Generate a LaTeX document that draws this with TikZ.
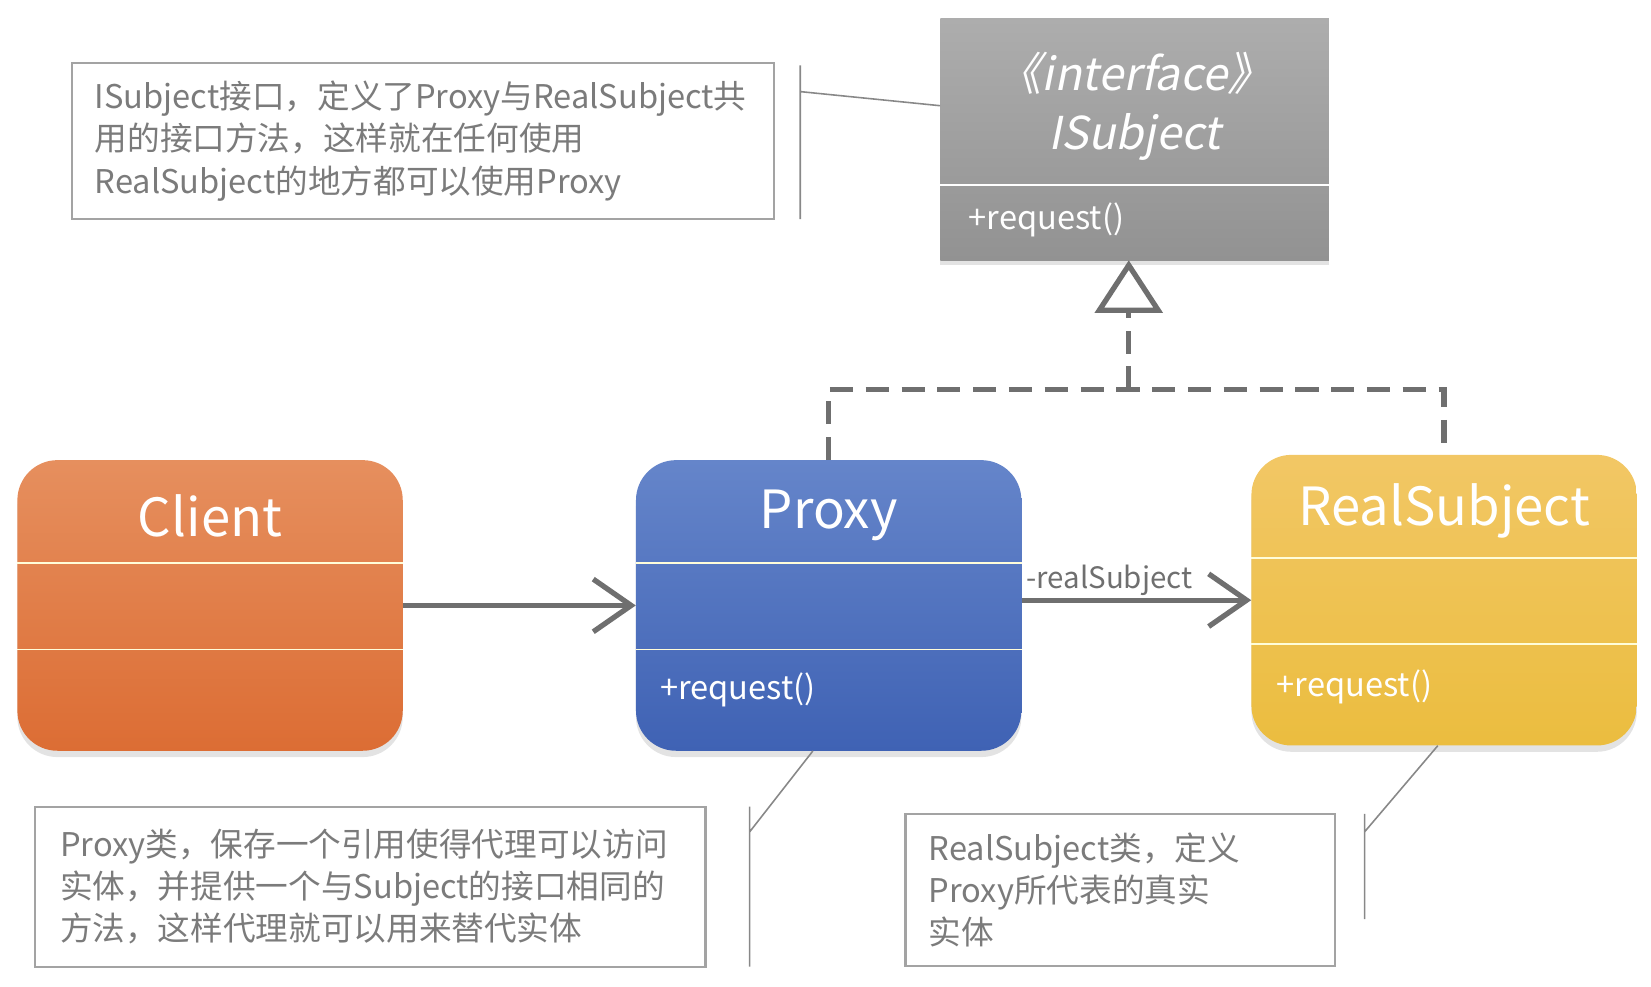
\documentclass[tikz,border=0pt]{standalone}
\usepackage{fontspec}
\setmainfont{Noto Sans CJK SC}
\newfontfamily\slantfont{Noto Sans CJK SC}[FakeSlant=0.2]
\usetikzlibrary{positioning,calc,arrows.meta,shadows}
\definecolor{clienttop}{HTML}{E68F5E}
\definecolor{clientbot}{HTML}{DC6D34}
\definecolor{proxytop}{HTML}{6585CA}
\definecolor{proxybot}{HTML}{3F62B4}
\definecolor{realtop}{HTML}{F2C765}
\definecolor{realbot}{HTML}{EBBD3F}
\definecolor{ifacetop}{HTML}{ADADAD}
\definecolor{ifacebot}{HTML}{929292}
\definecolor{linegray}{HTML}{6F6F6F}
\definecolor{notegray}{HTML}{7B7B7B}
\begin{document}
\begin{tikzpicture}[x=1pt,y=-1pt,
  classbox/.style={rounded corners=38pt,minimum width=366pt,minimum height=276pt,inner sep=0pt,
    drop shadow={opacity=0.22,shadow xshift=0pt,shadow yshift=-6pt}},
  clientbox/.style={classbox,top color=clienttop,bottom color=clientbot},
  proxybox/.style={classbox,top color=proxytop,bottom color=proxybot},
  realbox/.style={classbox,top color=realtop,bottom color=realbot},
  ifacebox/.style={minimum width=369pt,minimum height=229pt,inner sep=0pt,
    top color=ifacetop,bottom color=ifacebot,
    drop shadow={opacity=0.22,shadow xshift=0pt,shadow yshift=-5pt}},
  divider/.style={draw=white!85!yellow,line width=1.5pt},
  classname/.style={text=white,font=\fontsize{50}{60}\selectfont},
  ifacetext/.style={text=white,font=\fontsize{43}{50}\selectfont\slantfont},
  optext/.style={text=white,font=\fontsize{31}{36}\selectfont,anchor=west,inner sep=0pt},
  notebox/.style={draw=notegray!70,line width=2pt,text=notegray,align=left,
    inner xsep=22pt,inner ysep=0pt,font=\fontsize{31}{40}\selectfont},
  callout/.style={draw=notegray!90,line width=1.5pt},
  assoc/.style={draw=linegray,line width=5pt,-{Straight Barb[length=36pt,width=50pt]}},
  realize/.style={draw=linegray,line width=5pt,dash pattern=on 22pt off 12pt},
]
\useasboundingbox (0,0) rectangle (1568,937);

% classes
\node[ifacebox] (iface) at (1077.5,132.5) {};
\node[clientbox] (client) at (199.5,575) {};
\node[proxybox] (proxy) at (787,575) {};
\node[realbox] (real) at (1371.5,570) {};

\draw[divider,draw=white] ($(iface.north west)+(0,158)$) -- ($(iface.north east)+(0,158)$);
\foreach \c in {client,proxy,real}{
  \draw[divider] ($(\c.north west)+(0,98)$) -- ($(\c.north east)+(0,98)$);
  \draw[divider] ($(\c.north west)+(0,180)$) -- ($(\c.north east)+(0,180)$);
}

\node[ifacetext] (stereo) at ($(iface.north)+(0,52)$) {《interface》};
\node[ifacetext] (ifname) at ($(iface.north)+(0,112)$) {ISubject};
\node[optext] (ifaceop) at ($(iface.north west)+(27,191)$) {+request()};
\node[classname] (clientname) at ($(client.north)+(0,53)$) {Client};
\node[classname] (proxyname) at ($(proxy.north)+(0,53)$) {Proxy};
\node[classname] (realname) at ($(real.north)+(0,53)$) {RealSubject};
\node[optext] (proxyop) at ($(proxy.north west)+(23,218)$) {+request()};
\node[optext] (realop) at ($(real.north west)+(24,221)$) {+request()};

% relations
\draw[assoc] (client) -- (proxy);
\draw[assoc] (proxy.east |- real.west) -- (real.west)
  node[pos=0,anchor=south west,inner sep=2pt,text=linegray,font=\fontsize{28}{34}\selectfont] (rolename) {-realSubject};
\coordinate (junc) at (1072,370);
\draw[realize] (proxy.north) |- (junc) -| (real.north);
\draw[realize,-{Triangle[open,length=50pt,width=64pt,fill=white]}] (junc) -- ([xshift=-5.5pt]iface.south);

% notes
\node[notebox,text width=623pt,minimum height=148pt] (note1) at (401.5,134)
  {ISubject接口，定义了Proxy与RealSubject共\\用的接口方法，这样就在任何使用\\RealSubject的地方都可以使用Proxy};
\node[notebox,text width=589pt,inner xsep=24pt,minimum height=152pt] (note2) at (351.5,842)
  {Proxy类，保存一个引用使得代理可以访问\\实体，并提供一个与Subject的接口相同的\\方法，这样代理就可以用来替代实体};
\node[notebox,text width=364pt,minimum height=144pt] (note3) at (1064,845)
  {RealSubject类，定义\\Proxy所代表的真实\\实体};

\coordinate (c1top) at (760,62);
\coordinate (c1bot) at (760,208);
\coordinate (c1knee) at (760,87);
\coordinate (c2top) at (712,766);
\coordinate (c2bot) at (712,918);
\coordinate (c2knee) at (712,790);
\coordinate (c3top) at (1296,773);
\coordinate (c3bot) at (1296,873);
\coordinate (c3knee) at (1296,790);
\draw[callout] (c1top) -- (c1bot) (c1knee) -- ($(iface.north west)!0.36!(iface.south west)$);
\draw[callout] (c2top) -- (c2bot) (c2knee) -- ([xshift=-15pt]proxy.south);
\draw[callout] (c3top) -- (c3bot) (c3knee) -- ([xshift=-6pt]real.south);
\end{tikzpicture}
\end{document}
